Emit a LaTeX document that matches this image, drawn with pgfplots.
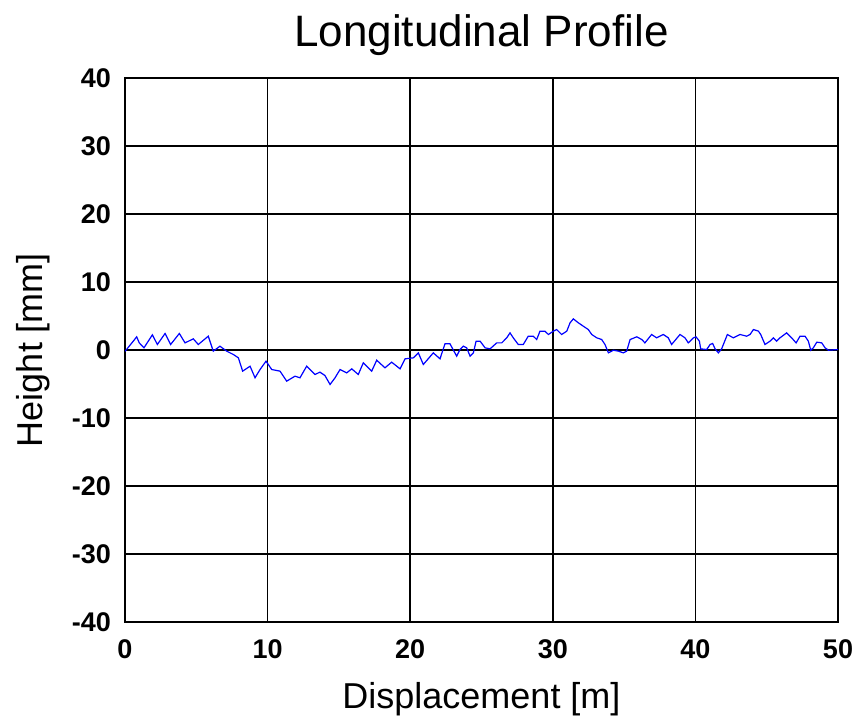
\documentclass[border=0pt]{standalone}
\usepackage{fontspec}
\setmainfont{Liberation Sans}
\usepackage{pgfplots}
\pgfplotsset{compat=1.18}

\pgfplotstableread{
x y
0 -0.2
0.58 1.3
0.82 1.94
1.0 1.05
1.33 0.32
1.92 2.23
2.27 0.81
2.81 2.43
3.2 0.81
3.81 2.43
4.21 1.05
4.79 1.64
5.14 0.81
5.84 2.03
6.19 -0.17
6.66 0.56
7.13 -0.17
7.6 -0.66
7.95 -1.15
8.25 -3.11
8.77 -2.38
9.12 -4.09
9.47 -2.87
9.89 -1.64
10.29 -2.87
10.87 -3.11
11.34 -4.58
11.92 -3.85
12.27 -4.09
12.74 -2.38
13.32 -3.6
13.67 -3.26
14.02 -3.75
14.38 -5.07
14.73 -4.09
15.08 -2.87
15.55 -3.36
15.9 -2.77
16.36 -3.6
16.71 -1.89
17.3 -3.11
17.65 -1.5
18.23 -2.62
18.7 -1.79
19.29 -2.77
19.64 -1.3
20.22 -1.15
20.57 -0.42
20.92 -2.13
21.62 -0.42
22.09 -1.3
22.44 0.91
22.79 0.91
23.26 -0.91
23.49 0.07
23.73 0.56
23.96 0.32
24.2 -0.91
24.43 -0.42
24.62 1.3
24.9 1.3
25.25 0.32
25.6 0.17
26.07 1.05
26.42 1.05
26.77 1.79
27.0 2.52
27.23 1.79
27.58 0.81
27.93 0.81
28.28 2.03
28.63 2.03
28.87 1.54
29.1 2.77
29.45 2.77
29.69 2.28
30.04 2.77
30.27 3.01
30.62 2.28
30.98 2.77
31.21 4.0
31.44 4.58
31.79 4.0
32.14 3.5
32.49 3.01
32.73 2.28
33.08 1.79
33.43 1.54
33.66 0.81
33.9 -0.42
34.25 -0.03
34.6 -0.17
34.95 -0.42
35.18 -0.17
35.42 1.54
35.89 1.94
36.24 1.54
36.46 1.05
36.93 2.28
37.28 1.79
37.75 2.28
38.1 1.79
38.33 0.81
38.92 2.28
39.27 1.79
39.5 1.05
39.86 1.79
40.04 1.94
40.28 1.3
40.37 0.17
40.79 0.07
41.03 0.81
41.21 0.96
41.38 0.17
41.61 -0.42
41.84 0.17
42.24 2.28
42.66 1.79
43.13 2.28
43.6 2.03
43.83 2.28
44.07 3.01
44.42 2.77
44.58 2.28
44.88 0.81
45.23 1.3
45.47 1.79
45.7 1.3
45.93 1.79
46.4 2.52
46.75 1.79
47.06 1.05
47.34 2.03
47.69 2.03
47.92 1.3
48.09 -0.03
48.27 0.32
48.51 1.15
48.86 1.05
49.09 0.32
49.33 -0.03
50 0.07
}\profile

\begin{document}
\begin{tikzpicture}
% page frame: reference is 858x716 px, axis box at (125,78)-(838,622)
\path (-125pt,-94pt) rectangle (733pt,622pt);
\begin{axis}[
    scale only axis,
    width=713pt, height=544pt,
    xmin=0, xmax=50, ymin=-40, ymax=40,
    xtick={0,10,20,30,40,50},
    ytick={-40,-30,-20,-10,0,10,20,30,40},
    xticklabels={0,10,20,30,40,50},
    yticklabels={-40,-30,-20,-10,0,10,20,30,40},
    major tick length=0pt,
    grid=major,
    grid style={black, line width=1.6pt},
    axis line style={black, line width=1.6pt},
    ticklabel style={font=\fontsize{27}{30}\selectfont\bfseries},
    yticklabel style={inner sep=0pt, xshift=-14pt},
    xticklabel style={inner sep=0pt, yshift=-17pt},
    title={Longitudinal Profile},
    title style={font=\fontsize{44}{50}\selectfont, at={(axis description cs:0.5,1)}, anchor=base, yshift=26pt},
    xlabel={Displacement [m]},
    xlabel style={font=\fontsize{36}{40}\selectfont, at={(axis description cs:0.5,0)}, anchor=base, yshift=-86pt},
    ylabel={Height [mm]},
    ylabel style={font=\fontsize{36}{40}\selectfont, at={(axis description cs:0,0.5)}, anchor=center, yshift=92pt},
]
\addplot[blue, line width=1.2pt] table[x=x, y=y] {\profile};
\end{axis}
\end{tikzpicture}
\end{document}
